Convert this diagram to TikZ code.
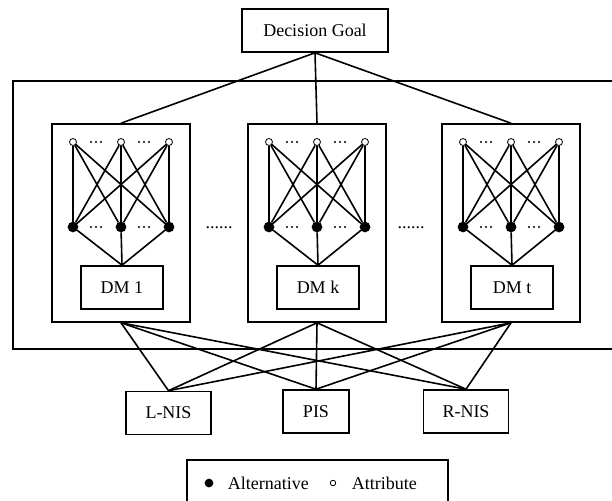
\documentclass[tikz,border=0pt]{standalone}
\usepackage{fontspec}
\setmainfont{Liberation Serif}
\begin{document}
\begin{tikzpicture}[x=1pt,y=-1pt, line width=1.6pt,
  box/.style={draw, rectangle, inner sep=0pt, font=\fontsize{18}{21}\selectfont},
  opn/.style={draw, circle, fill=white, inner sep=0pt, minimum size=7pt, line width=0.8pt},
  fil/.style={draw, circle, fill=black, inner sep=0pt, minimum size=9pt},
  lbl/.style={font=\fontsize{18}{21}\selectfont, inner sep=0pt}]
\useasboundingbox (0,0) rectangle (612,500);
\clip (0,0) rectangle (612,500);
% outer frame
\draw (13,81) rectangle (630,349);
% goal
\node[box, minimum width=146pt, minimum height=43pt] (goal) at (315,30.5) {Decision Goal};
% decision makers
\foreach \n/\x in {1/121,k/317,t/511}{
  \node[box, minimum width=138pt, minimum height=198pt] (dm\n) at (\x,223) {};
  \node[box, minimum width=82pt, minimum height=43pt] (l\n) at (\x+1,287.5) {DM \n};
  \node[opn] (a\n1) at (\x-48,142) {};
  \node[opn] (a\n2) at (\x,142) {};
  \node[opn] (a\n3) at (\x+48,142) {};
  \node[fil] (b\n1) at (\x-48,227) {};
  \node[fil] (b\n2) at (\x,227) {};
  \node[fil] (b\n3) at (\x+48,227) {};
  \foreach \i in {1,2,3}{
    \foreach \j in {1,2,3}{
      \draw (a\n\i) -- (b\n\j);
    }
    \draw (b\n\i) -- (l\n.north);
  }
  \foreach \dx in {-25,23}{
    \foreach \yy in {142,227}{
      \foreach \e in {-5,0,5}{
        \fill (\x+\dx+\e,\yy) circle (1.2pt);
      }
    }
  }
  \draw (goal.south) -- (dm\n.north);
}
% ellipses between boxes
\node[lbl, anchor=base] (dots1) at (219,228) {......};
\node[lbl, anchor=base] (dots2) at (411,228) {......};
% ideal solutions
\node[box, minimum width=85pt, minimum height=43pt] (lnis) at (168.5,413) {L-NIS};
\node[box, minimum width=66pt, minimum height=43pt] (pis) at (316,411.5) {PIS};
\node[box, minimum width=85pt, minimum height=43pt] (rnis) at (466,411.5) {R-NIS};
\foreach \n in {1,k,t}{
  \foreach \s in {lnis,pis,rnis}{
    \draw (dm\n.south) -- (\s.north);
  }
}
% legend
\node[box, minimum width=261pt, minimum height=50pt] (legend) at (317.5,485) {};
\node[fil, minimum size=7pt] (kalt) at (209,483) {};
\node[lbl, anchor=base west] (talt) at (227,489) {Alternative};
\node[opn, minimum size=5.5pt] (katt) at (333,483) {};
\node[lbl, anchor=base west] (tatt) at (351,489) {Attribute};
\end{tikzpicture}
\end{document}
